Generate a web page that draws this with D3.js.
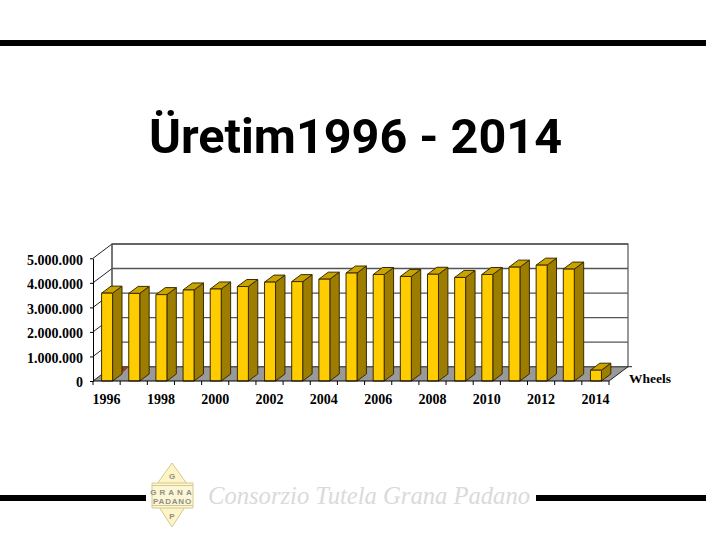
<!DOCTYPE html>
<html lang="tr">
<head>
    <meta charset="utf-8">
    <title>Üretim 1996 - 2014</title>
    <script src="https://d3js.org/d3.v7.min.js" charset="utf-8"></script>
    <style type="text/css">
        html, body { margin: 0; padding: 0; background: #fff; }
        svg { display: block; }
        .axis text { font-family: "Liberation Serif", serif; font-weight: bold; font-size: 14px; fill: #000; }
    </style>
</head>
<body>
    <svg width="720" height="540"></svg>
    <script>
        var years = ["1996", "1997", "1998", "1999", "2000", "2001", "2002", "2003", "2004", "2005",
                     "2006", "2007", "2008", "2009", "2010", "2011", "2012", "2013", "2014"];
        var wheels = [3580000, 3570000, 3520000, 3710000, 3750000, 3850000, 4030000, 4050000, 4150000, 4400000,
                      4340000, 4260000, 4350000, 4220000, 4340000, 4640000, 4720000, 4560000, 440000];
        var yearLabels = ["1996", "1998", "2000", "2002", "2004", "2006", "2008", "2010", "2012", "2014"];
        var valueTicks = [0, 1000000, 2000000, 3000000, 4000000, 5000000];
        var seriesName = "Wheels";
        var titleText = "Üretim1996 - 2014";

        var svg = d3.select("svg");

        var left = 93, right = 609, base = 381, top5 = 258.3;
        var wallDx = 19, wallDy = 14.3;      // depth of the 3d box
        var barDx = 9.4, barDy = 7;          // depth of one bar
        var barOffset = 8.6, barWidth = 11;

        var xScale = d3.scaleBand().domain(years).range([left, right]);
        var yScale = d3.scaleLinear().domain([0, 5000000]).range([base, top5]);

        function pts(list) {
            return list.map(function(p) { return p[0] + "," + p[1]; }).join(" ");
        }

        // rules of the slide
        svg.append("rect").attr("x", 0).attr("y", 40).attr("width", 706).attr("height", 6).attr("fill", "#000");
        svg.append("rect").attr("x", 0).attr("y", 495).attr("width", 146).attr("height", 6).attr("fill", "#000");
        svg.append("rect").attr("x", 536).attr("y", 495).attr("width", 170).attr("height", 6).attr("fill", "#000");

        svg.append("text")
            .attr("x", 149).attr("y", 153)
            .attr("textLength", 413).attr("lengthAdjust", "spacingAndGlyphs")
            .attr("font-family", "Roboto, sans-serif").attr("font-weight", "bold")
            .attr("font-size", 48).attr("fill", "#000")
            .text(titleText);

        // walls and floor
        var plot = svg.append("g");
        var yTop = yScale(5000000), yBase = yScale(0);

        plot.append("polygon")
            .attr("points", pts([[left, yBase], [left, yTop], [left + wallDx, yTop - wallDy], [left + wallDx, yBase - wallDy]]))
            .attr("fill", "#fff");
        plot.append("rect")
            .attr("x", left + wallDx).attr("y", yTop - wallDy)
            .attr("width", right - left).attr("height", yBase - yTop)
            .attr("fill", "#fff").attr("stroke", "#555").attr("stroke-width", 1.2);
        plot.append("polygon")
            .attr("points", pts([[left, yBase], [left + wallDx, yBase - wallDy], [right + wallDx, yBase - wallDy], [right, yBase]]))
            .attr("fill", "#999");

        valueTicks.forEach(function(v) {
            var y = yScale(v);
            plot.append("line")
                .attr("x1", left).attr("y1", y).attr("x2", left + wallDx).attr("y2", y - wallDy)
                .attr("stroke", "#222").attr("stroke-width", 1);
            plot.append("line")
                .attr("x1", left + wallDx).attr("y1", y - wallDy).attr("x2", right + wallDx).attr("y2", y - wallDy)
                .attr("stroke", "#555").attr("stroke-width", 1.4);
        });
        plot.append("line")
            .attr("x1", left + wallDx).attr("y1", yTop - wallDy).attr("x2", left + wallDx).attr("y2", yBase - wallDy)
            .attr("stroke", "#555");

        // floor edge on the right
        plot.append("line")
            .attr("x1", right).attr("y1", yBase).attr("x2", right + wallDx).attr("y2", yBase - wallDy)
            .attr("stroke", "#222");
        plot.append("line")
            .attr("x1", right + wallDx).attr("y1", yBase - wallDy).attr("x2", right + wallDx + 4).attr("y2", yBase - wallDy)
            .attr("stroke", "#222");

        // small red patch behind the second bar
        plot.append("polygon")
            .attr("points", pts([[122, yBase - wallDy], [129, yBase - wallDy], [122, yBase - 8]]))
            .attr("fill", "#8e3b22");

        // bars
        var bars = plot.selectAll("g.bar")
            .data(years)
            .enter().append("g")
            .attr("class", "bar")
            .attr("stroke", "#3a2c00")
            .attr("stroke-width", 1)
            .attr("stroke-linejoin", "round");

        bars.append("polygon")
            .attr("fill", "#9c7d00")
            .attr("points", function(d, i) {
                var x = xScale(d) + barOffset + barWidth, y = yScale(wheels[i]);
                return pts([[x, y], [x + barDx, y - barDy], [x + barDx, yBase - barDy], [x, yBase]]);
            });
        bars.append("polygon")
            .attr("fill", "#c9a300")
            .attr("points", function(d, i) {
                var x = xScale(d) + barOffset, y = yScale(wheels[i]);
                return pts([[x, y], [x + barDx, y - barDy], [x + barDx + barWidth, y - barDy], [x + barWidth, y]]);
            });
        bars.append("rect")
            .attr("fill", "#ffcc00")
            .attr("x", function(d) { return xScale(d) + barOffset; })
            .attr("y", function(d, i) { return yScale(wheels[i]); })
            .attr("width", barWidth)
            .attr("height", function(d, i) { return yBase - yScale(wheels[i]); });

        // axes
        var yAxis = d3.axisLeft(yScale)
            .tickValues(valueTicks)
            .tickSize(3)
            .tickSizeOuter(0)
            .tickPadding(7)
            .tickFormat(function(d) { return d3.format(",")(d).replace(/,/g, "."); });
        var gy = svg.append("g").attr("class", "axis")
            .attr("transform", "translate(" + left + ",0)")
            .call(yAxis);
        gy.selectAll("line").attr("stroke", "#000");
        gy.select(".domain").attr("stroke", "#000");
        gy.selectAll("text").attr("dy", "0.42em");

        var xAxis = d3.axisBottom(xScale)
            .tickValues(yearLabels)
            .tickSize(0)
            .tickPadding(13);
        var gx = svg.append("g").attr("class", "axis")
            .attr("transform", "translate(0," + base + ")")
            .call(xAxis);
        gx.select(".domain").remove();

        var edges = years.map(function(d) { return xScale(d); }).concat([right]);
        svg.append("path")
            .attr("fill", "none").attr("stroke", "#000")
            .attr("d", "M" + left + "," + base + "H" + right + edges.map(function(x) {
                return "M" + x + "," + base + "v4";
            }).join(""));

        svg.append("text")
            .attr("x", 629).attr("y", 382.5)
            .attr("font-family", "'Liberation Serif', serif").attr("font-weight", "bold")
            .attr("font-size", 13.5).attr("fill", "#000")
            .text(seriesName);

        // footer logo
        var logo = svg.append("g").attr("stroke", "#d6c98c").attr("fill", "#fdf4c8").attr("stroke-linejoin", "round");
        logo.append("polygon").attr("points", "172,463 157,484 187,484");
        logo.append("polygon").attr("points", "172,527 159,507 185,507");
        logo.append("rect").attr("x", 152).attr("y", 483).attr("width", 41).attr("height", 25).attr("fill", "#fdf6d6");
        logo.append("line").attr("x1", 152).attr("x2", 193).attr("y1", 485.5).attr("y2", 485.5);
        logo.append("line").attr("x1", 152).attr("x2", 193).attr("y1", 505.5).attr("y2", 505.5);

        var logoText = svg.append("g")
            .attr("font-family", "'Liberation Sans', sans-serif").attr("font-weight", "bold")
            .attr("fill", "#8f8f80").attr("text-anchor", "middle");
        logoText.append("text").attr("x", 172.5).attr("y", 494.5).attr("font-size", 8).attr("letter-spacing", 3).text("GRANA");
        logoText.append("text").attr("x", 172.5).attr("y", 503.5).attr("font-size", 8).attr("letter-spacing", 0.8).text("PADANO");
        logoText.append("text").attr("x", 172).attr("y", 479).attr("font-size", 8).text("G");
        logoText.append("text").attr("x", 172).attr("y", 519).attr("font-size", 8).text("P");

        svg.append("text")
            .attr("x", 208).attr("y", 504)
            .attr("textLength", 322).attr("lengthAdjust", "spacingAndGlyphs")
            .attr("font-family", "'Liberation Serif', serif").attr("font-style", "italic")
            .attr("font-size", 25).attr("fill", "#dadada")
            .text("Consorzio Tutela Grana Padano");
    </script>
</body>
</html>
